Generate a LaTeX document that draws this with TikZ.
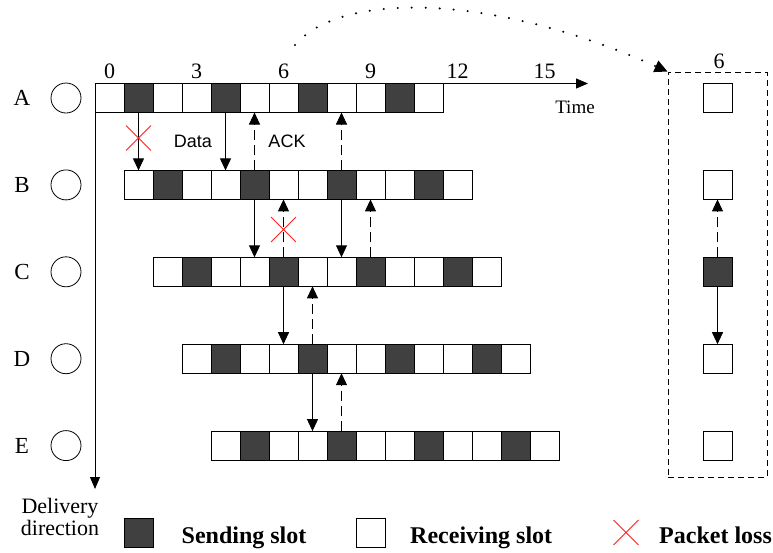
\documentclass[tikz,border=0pt]{standalone}
\usepackage{fontspec}
\setmainfont{Liberation Serif}
\newfontfamily\labelsans{Liberation Sans}
\usetikzlibrary{arrows.meta,shapes.misc}
\definecolor{slotdark}{HTML}{404040}
\definecolor{lossred}{HTML}{FF2020}
\begin{document}
\begin{tikzpicture}[x=1pt,y=-1pt,
  slot0/.style={draw=black, line width=0.8pt, fill=white, minimum size=29pt, inner sep=0pt, outer sep=0pt},
  slot1/.style={slot0, fill=slotdark},
  slot2/.style={slot0},
  conn/.style={line width=0.9pt, -{Triangle[length=12pt,width=11pt]}},
  ack/.style={conn, dash pattern=on 10pt off 5pt},
  axis/.style={line width=0.9pt, -{Triangle[length=12pt,width=10pt]}},
  lossmark/.style={cross out, draw=lossred, line width=0.9pt, minimum size=24pt, inner sep=0pt},
  rowlabel/.style={font=\fontsize{23}{27}\selectfont},
  ticklabel/.style={font=\fontsize{22}{26}\selectfont, anchor=base, inner sep=0pt},
  legtext/.style={font=\bfseries\fontsize{24}{28}\selectfont, anchor=base west, inner sep=0pt},
  sanslabel/.style={font=\labelsans\fontsize{18}{21}\selectfont},
  nodecircle/.style={circle, draw, line width=0.8pt, minimum size=30pt, inner sep=0pt},
  delivtext/.style={font=\fontsize{22}{26}\selectfont, anchor=base, inner sep=0pt}
]
\useasboundingbox (0,0) rectangle (773,552);

% rows of slots
\foreach \r [count=\i from 0] in {A,B,C,D,E} {
  \pgfmathsetmacro{\cy}{98+86.9*\i}
  \node[rowlabel] (lab\r) at (22,\cy) {\r};
  \node[nodecircle] (node\r) at (66,\cy) {};
  \foreach \k [evaluate=\k as \m using {int(mod(\k,3))}] in {0,...,11} {
    \node[slot\m] (\r\k) at ({109.5+29*\i+29*\k},\cy) {};
  }
}

% axes
\coordinate (origin) at (95,83.5);
\coordinate (timeend) at (588,83.5);
\coordinate (delivend) at (95,489);
\draw[axis] (origin) -- (timeend);
\draw[axis] (origin) -- (delivend);
\foreach \t in {0,3,...,15} {
  \node[ticklabel] (tick\t) at ({109.5+29*\t},78) {\t};
}
\node[font=\fontsize{19}{22}\selectfont, anchor=base, inner sep=0pt] (timelab) at (575,113) {Time};
\node[delivtext] (delivlab1) at (60,513) {Delivery};
\node[delivtext] (delivlab2) at (60,535) {direction};

% data / ack labels
\node[sanslabel] (datalab) at (193,141) {Data};
\node[sanslabel] (acklab) at (287,141) {ACK};

% transmissions
\draw[conn] (A1.south) -- (B0.north);
\node[lossmark] (loss1) at (138.5,138) {};
\draw[conn] (A4.south) -- (B3.north);
\draw[ack] (B4.north) -- (A5.south);
\draw[ack] (B7.north) -- (A8.south);
\draw[conn] (B4.south) -- (C3.north);
\draw[ack] (C4.north) -- (B5.south);
\node[lossmark] (loss2) at (283.5,229.5) {};
\draw[conn] (B7.south) -- (C6.north);
\draw[ack] (C7.north) -- (B8.south);
\draw[conn] (C4.south) -- (D3.north);
\draw[ack] (D4.north) -- (C5.south);
\draw[conn] (D4.south) -- (E3.north);
\draw[ack] (E4.north) -- (D5.south);

% zoomed column at slot 6
\node[draw, line width=0.8pt, dash pattern=on 6pt off 4pt, minimum width=99pt, minimum height=405pt, inner sep=0pt] (zoombox) at (717.5,274.5) {};
\node[ticklabel] (zlab) at (719,68) {6};
\foreach \i in {0,1,3,4} {
  \node[slot0] (R\i) at (717.5,{98+86.9*\i}) {};
}
\node[slot1] (R2) at (717.5,{98+86.9*2}) {};
\draw[ack] (R2.north) -- (R1.south);
\draw[conn] (R2.south) -- (R3.north);

% dotted pointer
\coordinate (dotstart) at (295,45);
\draw[line width=2.3pt, line cap=round, dash pattern=on 0pt off 14pt, -{Triangle[length=13pt,width=12pt]}] (dotstart) .. controls (340,-8) and (490,-8) .. (zoombox.north west);

% legend
\node[slot1] (legsend) at (138.5,532.5) {};
\node[legtext] (legsendtxt) at (181.5,543) {Sending slot};
\node[slot0] (legrecv) at (370.5,532.5) {};
\node[legtext] (legrecvtxt) at (410,543) {Receiving slot};
\node[lossmark] (legloss) at (626,532.5) {};
\node[legtext] (leglosstxt) at (659,543) {Packet loss};
\end{tikzpicture}
\end{document}
